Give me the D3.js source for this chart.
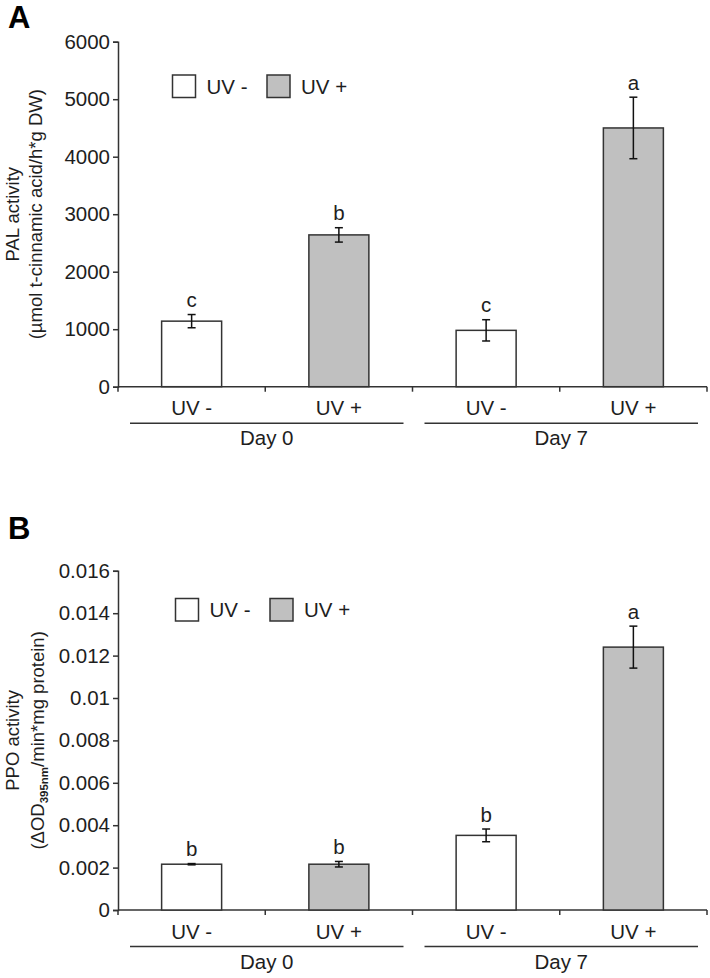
<!DOCTYPE html>
<html><head><meta charset="utf-8">
<script src="https://cdn.jsdelivr.net/npm/d3@7/dist/d3.min.js"></script>
<style>
html,body{margin:0;padding:0;background:#fff;}
svg{display:block;font-family:"Liberation Sans",Arial,sans-serif;}
</style></head>
<body>
<svg id="chart" width="710" height="978"></svg>
<script>
// ---- data ----
const categories = ["UV -", "UV +", "UV -", "UV +"];
const treatments = ["UV-", "UV+", "UV-", "UV+"];
const days = ["Day 0", "Day 7"];
const legendLabels = ["UV -", "UV +"];

const palMeans = [1140, 2640, 980, 4500];
const palErr = [115, 125, 185, 535];
const palLetters = ["c", "b", "c", "a"];
const palTicks = [0, 1000, 2000, 3000, 4000, 5000, 6000];

const ppoMeans = [0.00216, 0.00216, 0.00352, 0.0124];
const ppoErr = [0.00003, 0.00013, 0.0003, 0.00099];
const ppoLetters = ["b", "b", "b", "a"];
const ppoTicks = [0, 0.002, 0.004, 0.006, 0.008, 0.01, 0.012, 0.014, 0.016];

const fillFor = {"UV-": "#ffffff", "UV+": "#c0c0c0"};
const ink = "#1e1e1e";
const stroke = "#333333";
const FS = 20.5;

const svg = d3.select("#chart");

function drawPanel(o) {
  const g = svg.append("g");
  const x = d3.scaleBand().domain(d3.range(categories.length))
    .range([118, 707]).paddingInner(0.5925).paddingOuter(0.29625);
  const y = d3.scaleLinear().domain([0, o.max]).range([o.y0, o.y1]);

  // panel letter
  g.append("text").attr("x", 8).attr("y", o.letterY)
    .attr("font-size", 31).attr("font-weight", "bold").attr("fill", "#000").text(o.letter);

  // y axis
  const ya = g.append("g").attr("transform", "translate(118,0)")
    .call(d3.axisLeft(y).tickValues(o.ticks).tickSize(5).tickPadding(3).tickFormat(o.fmt));
  ya.selectAll("path").attr("stroke", stroke).attr("stroke-width", 1.5);
  ya.selectAll("line").attr("stroke", stroke).attr("stroke-width", 1.5);
  ya.selectAll("text").attr("font-size", FS).attr("fill", ink)
    .attr("font-family", "Liberation Sans, Arial, sans-serif");

  // x axis with ticks at band boundaries
  const bounds = d3.range(categories.length + 1).map(i => i === categories.length ? 707 : x(i) - x.step() * x.paddingInner() / 2);
  g.append("line").attr("x1", 118).attr("x2", 707).attr("y1", o.y0).attr("y2", o.y0)
    .attr("stroke", stroke).attr("stroke-width", 1.5);
  g.selectAll(".xt").data(bounds).join("line")
    .attr("x1", d => d).attr("x2", d => d).attr("y1", o.y0).attr("y2", o.y0 + 5)
    .attr("stroke", stroke).attr("stroke-width", 1.5);

  // category labels
  g.selectAll(".cl").data(categories).join("text")
    .attr("x", (d, i) => x(i) + x.bandwidth() / 2).attr("y", o.y0 + 28.5)
    .attr("text-anchor", "middle").attr("font-size", FS).attr("fill", ink).text(d => d);

  // day group lines and labels
  days.forEach((d, k) => {
    const a = x(2 * k) - x.step() * x.paddingInner() / 2 + 12;
    const b = x(2 * k + 1) + x.bandwidth() + x.step() * x.paddingInner() / 2 - 9;
    g.append("line").attr("x1", a).attr("x2", b).attr("y1", o.y0 + 36.5).attr("y2", o.y0 + 36.5)
      .attr("stroke", stroke).attr("stroke-width", 1.5);
    g.append("text").attr("x", (a + b) / 2).attr("y", o.y0 + 58.5).attr("text-anchor", "middle")
      .attr("font-size", FS).attr("fill", ink).text(d);
  });

  // bars
  g.selectAll(".bar").data(o.means).join("rect")
    .attr("x", (d, i) => x(i)).attr("width", x.bandwidth())
    .attr("y", d => y(d)).attr("height", d => o.y0 - y(d))
    .attr("fill", (d, i) => fillFor[treatments[i]]).attr("stroke", stroke).attr("stroke-width", 1.5);

  // error bars
  const eb = g.selectAll(".eb").data(o.means).join("g");
  eb.append("line").attr("x1", (d, i) => x(i) + x.bandwidth() / 2).attr("x2", (d, i) => x(i) + x.bandwidth() / 2)
    .attr("y1", (d, i) => y(d + o.err[i])).attr("y2", (d, i) => y(d - o.err[i]))
    .attr("stroke", "#111").attr("stroke-width", 1.5);
  [1, -1].forEach(s => {
    eb.append("line").attr("x1", (d, i) => x(i) + x.bandwidth() / 2 - 4).attr("x2", (d, i) => x(i) + x.bandwidth() / 2 + 4)
      .attr("y1", (d, i) => y(d + s * o.err[i])).attr("y2", (d, i) => y(d + s * o.err[i]))
      .attr("stroke", "#111").attr("stroke-width", 1.5);
  });

  // significance letters
  g.selectAll(".sig").data(o.letters).join("text")
    .attr("x", (d, i) => x(i) + x.bandwidth() / 2)
    .attr("y", (d, i) => y(o.means[i] + o.err[i]) - 7.5)
    .attr("text-anchor", "middle").attr("font-size", FS).attr("fill", ink).text(d => d);

  // legend
  legendLabels.forEach((l, k) => {
    const lx = o.legX + k * 94.5;
    g.append("rect").attr("x", lx).attr("y", o.legY).attr("width", 23).attr("height", 22.5)
      .attr("fill", k === 0 ? fillFor["UV-"] : fillFor["UV+"]).attr("stroke", stroke).attr("stroke-width", 1.5);
    g.append("text").attr("x", lx + 34).attr("y", o.legY + 18.5).attr("font-size", FS)
      .attr("fill", ink).text(l);
  });

  // y-axis title
  const cy = (o.y0 + o.y1) / 2;
  const t = g.append("g").attr("transform", `translate(0,${cy}) rotate(-90)`);
  t.append("text").attr("x", 0).attr("y", 18.5).attr("text-anchor", "middle")
    .attr("font-size", 18.5).attr("fill", ink).text(o.title1);
  o.title2(t.append("text").attr("x", 0).attr("y", 42).attr("text-anchor", "middle")
    .attr("font-size", 18.5).attr("fill", ink));
}

drawPanel({
  letter: "A", letterY: 28, max: 6000, y0: 386.7, y1: 41.7,
  ticks: palTicks, fmt: d3.format("d"),
  means: palMeans, err: palErr, letters: palLetters,
  legX: 172.5, legY: 75,
  title1: "PAL activity",
  title2: t => t.text("(µmol t-cinnamic acid/h*g DW)")
});

drawPanel({
  letter: "B", letterY: 539, max: 0.016, y0: 910, y1: 570.8,
  ticks: ppoTicks, fmt: d => d === 0 ? "0" : String(+d.toFixed(3)),
  means: ppoMeans, err: ppoErr, letters: ppoLetters,
  legX: 175.5, legY: 598.5,
  title1: "PPO activity",
  title2: t => {
    t.attr("y", 44);
    t.append("tspan").text("(ΔOD");
    t.append("tspan").attr("font-size", 11.5).attr("font-weight", "bold").attr("dy", 4).text("395nm");
    t.append("tspan").attr("dy", -4).text("/min*mg protein)");
  }
});
</script>
</body></html>
